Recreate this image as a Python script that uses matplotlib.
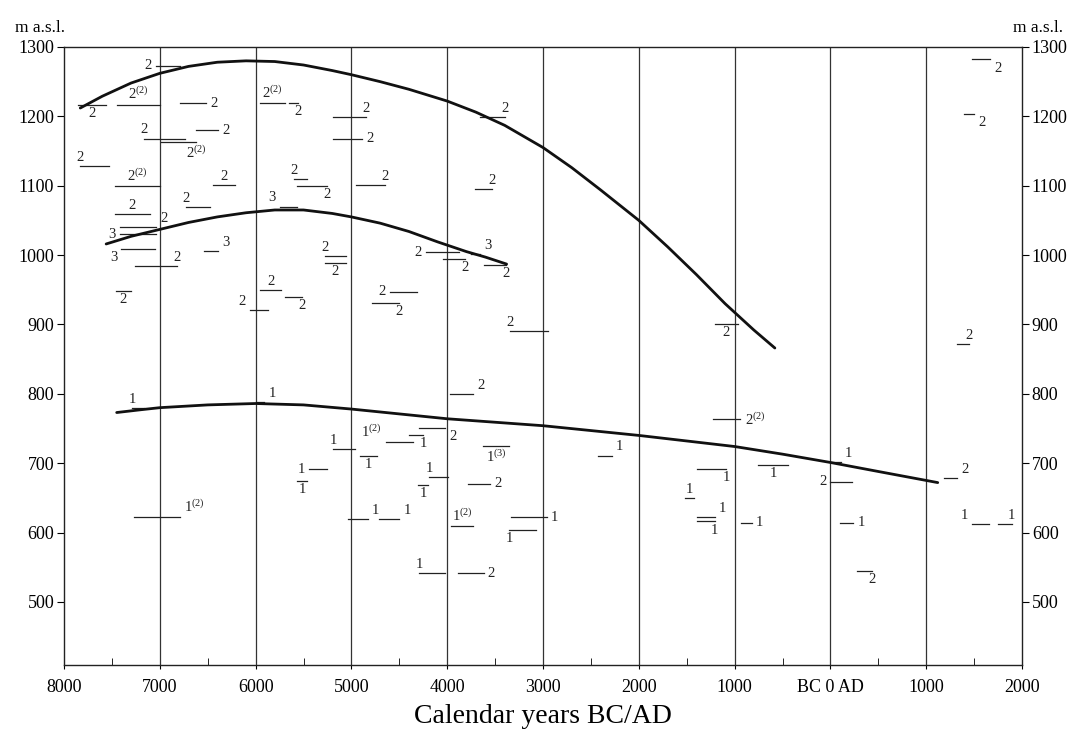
import numpy as np
import matplotlib.pyplot as plt
from matplotlib.ticker import FixedLocator

plt.rcParams['font.family'] = ['Liberation Serif', 'DejaVu Serif']
plt.rcParams['mathtext.default'] = 'regular'

# dated levels: years (BC negative), altitude m a.s.l., label
seg_start = [-7040, -7850, -7450, -6790, -7160, -6990, -6620, -7830, -7470, -6440,
             -7470, -6730, -5950, -5650, -5190, -5190, -5600, -5570, -4950, -5750,
             -7420, -7420, -7400, -7260, -7460, -6540, -6060, -5950, -5690, -5280,
             -5280, -4780, -4600, -4220, -4040, -3750, -3620, -3660, -3710, -3340,
             -7290, -7270, -6000, -5190, -5440, -5570, -4910, -4640, -4400, -4290,
             -4190, -4300, -5040, -4710, -4290, -3970, -3630, -3780, -3960, -3330,
             -3350, -3890, -1210, -1230, -2430, -1390, -760, -1520, -1390, -1390,
             -930, 0, 0, 100, 280, 1190, 1480, 1750, 1480, 1390, 1320]
seg_end = [-6790, -7560, -7000, -6520, -6740, -6620, -6390, -7530, -7000, -6220,
           -7100, -6480, -5690, -5560, -4850, -4890, -5460, -5250, -4650, -5570,
           -7040, -7040, -7050, -6820, -7300, -6390, -5870, -5730, -5520, -5060,
           -5060, -4500, -4320, -3880, -3810, -3660, -3390, -3400, -3530, -2950,
           -7160, -6790, -5910, -4960, -5250, -5460, -4730, -4360, -4250, -4020,
           -3990, -4200, -4830, -4500, -4020, -3730, -3350, -3550, -3730, -2960,
           -3070, -3620, -970, -940, -2280, -1090, -440, -1420, -1210, -1210,
           -820, 220, 110, 240, 430, 1320, 1650, 1890, 1670, 1500, 1450]
seg_alt = [1273, 1217, 1217, 1219, 1168, 1163, 1180, 1129, 1099, 1101,
           1059, 1069, 1219, 1219, 1199, 1168, 1109, 1099, 1101, 1070,
           1040, 1030, 1009, 984, 948, 1006, 921, 950, 940, 999,
           988, 931, 947, 1004, 994, 1001, 986, 1199, 1095, 891,
           780, 622, 788, 721, 691, 675, 711, 730, 741, 751,
           680, 669, 620, 620, 541, 800, 725, 670, 610, 622,
           604, 541, 901, 763, 711, 692, 698, 650, 622, 616,
           614, 673, 701, 614, 544, 679, 612, 612, 1282, 1203, 872]
seg_label = ['2', '2', '2(2)', '2', '2', '2(2)', '2', '2', '2(2)', '2',
             '2', '2', '2(2)', '2', '2', '2', '2', '2', '2', '3',
             '2', '3', '3', '2', '2', '3', '2', '2', '2', '2',
             '2', '2', '2', '2', '2', '3', '2', '2', '2', '2',
             '1', '1(2)', '1', '1', '1', '1', '1', '1(2)', '1', '2',
             '1', '1', '1', '1', '1', '2', '1(3)', '2', '1(2)', '1',
             '1', '2', '2', '2(2)', '1', '1', '1', '1', '1', '1',
             '1', '2', '1', '1', '2', '2', '1', '1', '2', '2', '2']
label_pos = ['lm', 'cb', 'ca', 'rm', 'sa', 'eb', 'rm', 'sa', 'ca', 'ca',
             'ca', 'sa', 'ca', 'eb', 'ea', 'rm', 'sa', 'eb', 'ea', 'la',
             'ra', 'lm', 'lb', 'ea', 'cb', 'ra', 'la', 'ca', 'eb', 'sa',
             'cb', 'eb', 'lm', 'lm', 'eb', 'ra', 'eb', 'ea', 'ea', 'sa',
             'sa', 'ra', 'ra', 'sa', 'lm', 'cb', 'cb', 'la', 'eb', 'rb',
             'sa', 'cb', 'ra', 'ra', 'sa', 'ra', 'cb', 'rm', 'ca', 'rm',
             'sb', 'rm', 'cb', 'rm', 'ra', 'eb', 'cb', 'ca', 'ra', 'eb',
             'rm', 'lm', 'ra', 'rm', 'eb', 'ra', 'la', 'ea', 'rb', 'rb', 'ea']

# limit curves
upper_years = [-7830, -7600, -7300, -7000, -6700, -6400, -6100, -5800, -5500, -5200,
               -5000, -4700, -4400, -4000, -3700, -3400, -3000, -2700, -2400, -2000,
               -1700, -1400, -1100, -800, -580]
upper_alt = [1212, 1229, 1248, 1262, 1272, 1278, 1280, 1279, 1274, 1266,
             1260, 1250, 1239, 1222, 1206, 1187, 1155, 1126, 1094, 1050,
             1012, 972, 930, 892, 866]
middle_years = [-7560, -7300, -7000, -6700, -6400, -6100, -5800, -5500, -5200, -5000,
                -4700, -4400, -4100, -3800, -3600, -3380]
middle_alt = [1016, 1027, 1037, 1047, 1055, 1061, 1065, 1065, 1060, 1055,
              1046, 1034, 1019, 1005, 997, 987]
lower_years = [-7450, -7200, -7000, -6500, -6000, -5500, -5000, -4500, -4000, -3500,
               -3000, -2500, -2000, -1500, -1000, -500, 0, 500, 1120]
lower_alt = [773, 777, 780, 784, 786, 784, 778, 771, 764, 759,
             754, 747, 740, 732, 724, 713, 701, 688, 672]

year_ticks = list(range(-8000, 2001, 1000))
year_labels = ['8000', '7000', '6000', '5000', '4000', '3000', '2000', '1000',
               'BC 0 AD', '1000', '2000']
alt_ticks = list(range(500, 1301, 100))

fig = plt.figure(figsize=(10.72, 7.35), dpi=100)
ax = fig.add_axes([0.0597, 0.0952, 0.8937, 0.8409])
ax.set_xlim(-8000, 2000)
ax.set_ylim(409, 1298)

for yr in year_ticks[1:-1]:
    ax.axvline(yr, color='#333333', lw=0.9, zorder=1)

for xs, ys in [(upper_years, upper_alt), (middle_years, middle_alt), (lower_years, lower_alt)]:
    ax.plot(xs, ys, color='#111111', lw=2.0, solid_capstyle='round',
            solid_joinstyle='round', zorder=3)

hmap = {'l': (-3, 'right'), 's': (0, 'center'), 'c': (0, 'center'),
        'e': (0, 'center'), 'r': (3, 'left')}
vmap = {'a': (1.5, 'bottom'), 'm': (0, 'center'), 'b': (-1.5, 'top')}

for x0, x1, alt, lab, pos in zip(seg_start, seg_end, seg_alt, seg_label, label_pos):
    ax.plot([x0, x1], [alt, alt], color='#222222', lw=0.9, zorder=2)
    if pos[0] in 'ls':
        xa = x0
    elif pos[0] == 'c':
        xa = (x0 + x1) / 2
    else:
        xa = x1
    dx, ha = hmap[pos[0]]
    dy, va = vmap[pos[1]]
    if '(' in lab:
        base, sup = lab.split('(')
        txt = '$' + base + '^{(' + sup + '}$'
    else:
        txt = lab
    ax.annotate(txt, (xa, alt), xytext=(dx, dy), textcoords='offset points',
                ha=ha, va=va, fontsize=10.5, color='#222222')

ax.xaxis.set_major_locator(FixedLocator(year_ticks))
ax.set_xticklabels(year_labels, fontsize=13)
ax.xaxis.set_minor_locator(FixedLocator(list(range(-7500, 2000, 1000))))
ax.tick_params(axis='x', which='major', length=3, direction='out', pad=7)
ax.tick_params(axis='x', which='minor', length=5, direction='in')

ax.set_yticks(alt_ticks)
ax.set_yticklabels([str(v) for v in alt_ticks], fontsize=13)
ax.tick_params(axis='y', which='major', left=True, right=True, labelleft=True,
               labelright=True, length=5, direction='out', pad=2)

for sp in ax.spines.values():
    sp.set_color('#222222')
    sp.set_linewidth(1.0)

fig.text(0.014, 0.962, 'm a.s.l.', fontsize=12.5, ha='left', va='center')
fig.text(0.945, 0.962, 'm a.s.l.', fontsize=12.5, ha='left', va='center')
ax.set_xlabel('Calendar years BC/AD', fontsize=20, labelpad=6)

fig.savefig('out.png', dpi=100)
